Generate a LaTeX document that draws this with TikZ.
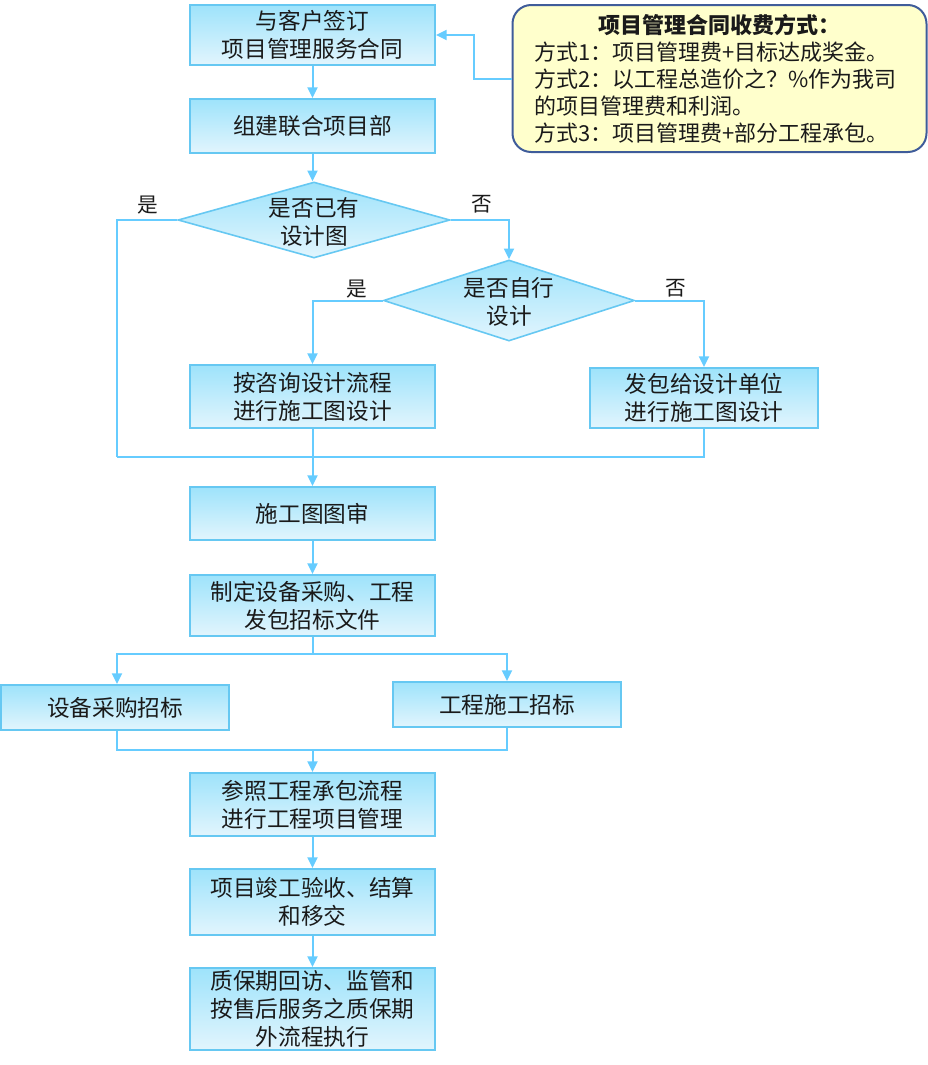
\documentclass[tikz,border=0pt]{standalone}
\usepackage{fontspec}
\setmainfont{Noto Sans CJK SC}
\usetikzlibrary{arrows.meta,shapes.geometric}
\definecolor{lineblue}{HTML}{66CCFF}
\definecolor{boxedge}{HTML}{66C8F2}
\definecolor{boxtop}{HTML}{9EE3FB}
\definecolor{boxbot}{HTML}{E2F5FD}
\definecolor{notefill}{HTML}{FFFFCC}
\definecolor{noteedge}{HTML}{3F5C9A}
\definecolor{txt}{HTML}{1A1A1A}
\begin{document}
\begin{tikzpicture}[x=0.75pt,y=-0.75pt,
  every node/.style={text=txt},
  flowbox/.style={draw=boxedge,line width=1.5pt,top color=boxtop,bottom color=boxbot,
    minimum width=183.75pt,align=center,inner sep=0pt,
    font=\fontsize{17pt}{21pt}\selectfont},
  decision/.style={diamond,draw=boxedge,line width=1.2pt,top color=boxtop,bottom color=boxbot,
    inner sep=0pt,aspect=3.4},
  dectext/.style={align=center,font=\fontsize{17pt}{21pt}\selectfont},
  yesno/.style={font=\fontsize{15.5pt}{18pt}\selectfont},
  conn/.style={draw=lineblue,line width=1.5pt},
  arr/.style={conn,-{Triangle[width=7.5pt,length=8pt]}}
]
\useasboundingbox (0,0) rectangle (928,1065);

% boxes
\node[flowbox,minimum height=45pt] (b1) at (312.5,35) {与客户签订\\项目管理服务合同};
\node[flowbox,minimum height=40.5pt] (b2) at (312.5,126) {组建联合项目部};
\node[decision,minimum width=204pt,minimum height=57pt] (d1) at (314,220) {};
\node[dectext] (d1t) at (314,222) {是否已有\\设计图};
\node[decision,minimum width=188.25pt,minimum height=60.75pt] (d2) at (509,300.5) {};
\node[dectext] (d2t) at (509,302) {是否自行\\设计};
\node[flowbox,minimum height=47.25pt] (b3) at (312.5,396.5) {按咨询设计流程\\进行施工图设计};
\node[flowbox,minimum width=171pt,minimum height=45pt] (b4) at (704,398) {发包给设计单位\\进行施工图设计};
\node[flowbox,minimum height=39.75pt] (b5) at (312.5,513.5) {施工图图审};
\node[flowbox,minimum height=45.75pt] (b6) at (312.5,605.5) {制定设备采购、工程\\发包招标文件};
\node[flowbox,minimum width=171pt,minimum height=33.75pt] (b7) at (115,707.5) {设备采购招标};
\node[flowbox,minimum width=171pt,minimum height=33.75pt] (b8) at (507,704.5) {工程施工招标};
\node[flowbox,minimum height=47.25pt] (b9) at (312.5,804.5) {参照工程承包流程\\进行工程项目管理};
\node[flowbox,minimum height=49.5pt] (b10) at (312.5,902) {项目竣工验收、结算\\和移交};
\node[flowbox,minimum height=61.5pt] (b11) at (312.5,1009) {质保期回访、监管和\\按售后服务之质保期\\外流程执行};

% note
\node[draw=noteedge,line width=1.5pt,fill=notefill,rounded corners=14pt,
  text width=277.5pt,inner xsep=16.5pt,inner ysep=0pt,minimum height=110.25pt,
  align=left,font=\fontsize{16.5pt}{20.25pt}\selectfont] (note) at (719.5,78.5)
  {{\centering\bfseries 项目管理合同收费方式：\par}
   方式1：项目管理费+目标达成奖金。\\
   方式2：以工程总造价之？\%作为我司\\
   的项目管理费和利润。\\
   方式3：项目管理费+部分工程承包。};

% labels
\node[yesno] (y1) at (148,205) {是};
\node[yesno] (n1) at (482,204) {否};
\node[yesno] (y2) at (357,289) {是};
\node[yesno] (n2) at (676,288) {否};

% helper coordinates
\coordinate (nk) at (474,35);
\coordinate (mL) at (117,457);
\coordinate (sp) at (312.5,654);
\coordinate (mg) at (312.5,750);

% connectors
\draw[arr] (note.west) -| (nk) -- (b1.east);
\draw[arr] (b1.south) -- (b2.north);
\draw[arr] (b2.south) -- (b2.south |- d1.north);
\draw[conn] (d1.west) -| (mL);
\draw[arr] (d1.east) -| (d2.north);
\draw[arr] (d2.west) -| (b3.north);
\draw[arr] (d2.east) -| (b4.north);
\draw[conn] (b4.south) |- (mL);
\draw[arr] (b3.south) -- (b5.north);
\draw[arr] (b5.south) -- (b6.north);
\draw[conn] (b6.south) -- (sp);
\draw[arr] (sp) -| ([xshift=1.5pt]b7.north);
\draw[arr] (sp) -| (b8.north);
\draw[conn] ([xshift=1.5pt]b7.south) |- (mg);
\draw[conn] (b8.south) |- (mg);
\draw[arr] (mg) -- (b9.north);
\draw[arr] (b9.south) -- (b10.north);
\draw[arr] (b10.south) -- (b11.north);
\end{tikzpicture}
\end{document}
